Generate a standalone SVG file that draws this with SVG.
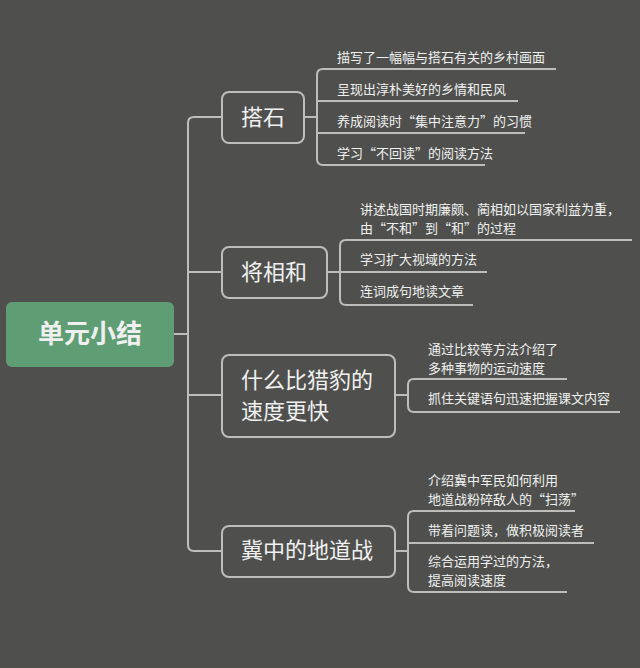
<svg xmlns="http://www.w3.org/2000/svg" width="640" height="668" viewBox="0 0 640 668">
<style>
text{font-family:"Noto Sans CJK SC","Noto Sans",sans-serif;fill:#f0f0f0}
.l{font-size:13px}
.b{font-size:22px}
.c{fill:none;stroke:#bdbdbb;stroke-width:2}
.box{fill:#4f504d;stroke:#bdbdbb;stroke-width:2}
</style>
<rect width="640" height="668" fill="#4f504d"/>
<g id="connectors" class="c">
<path d="M172 334H188"/>
<path d="M222 117H194Q188 117 188 123V545Q188 551 194 551H222"/>
<path d="M188 272H222M188 395H222"/>
<path d="M304 117H317"/>
<path d="M556 69H323Q317 69 317 75V159Q317 165 323 165H485M317 101H518M317 133H525"/>
<path d="M327 272H340"/>
<path d="M632 240H346Q340 240 340 246V299Q340 305 346 305H473M340 272H487"/>
<path d="M395 395H408"/>
<path d="M567 379H414Q408 379 408 385V406Q408 412 414 412H620"/>
<path d="M395 551H408"/>
<path d="M575 511H414Q408 511 408 517V586Q408 592 414 592H567M408 543H594"/>
</g>
<g id="root"><rect x="6" y="302" width="168" height="65" rx="6" fill="#5f9e74"/><text x="90" y="343" font-size="26" font-weight="bold" text-anchor="middle">单元小结</text></g>
<g id="n1"><rect class="box" x="222" y="92" width="82" height="51" rx="7"/><text class="b" x="263" y="125" text-anchor="middle">搭石</text></g>
<g id="n2"><rect class="box" x="222" y="247" width="105" height="51" rx="7"/><text class="b" x="274" y="280" text-anchor="middle">将相和</text></g>
<g id="n3"><rect class="box" x="222" y="355" width="173" height="82" rx="7"/><text class="b" x="241" y="388">什么比猎豹的</text><text class="b" x="241" y="419">速度更快</text></g>
<g id="n4"><rect class="box" x="222" y="526" width="173" height="51" rx="7"/><text class="b" x="241" y="558">冀中的地道战</text></g>
<g id="leaves" class="l">
<text class="l" x="337" y="62">描写了一幅幅与搭石有关的乡村画面</text>
<text class="l" x="337" y="94">呈现出淳朴美好的乡情和民风</text>
<text class="l" x="337" y="126">养成阅读时“集中注意力”的习惯</text>
<text class="l" x="337" y="158">学习“不回读”的阅读方法</text>
<text class="l" x="360" y="214">讲述战国时期廉颇、蔺相如以国家利益为重，</text>
<text class="l" x="360" y="233">由“不和”到“和”的过程</text>
<text class="l" x="360" y="264">学习扩大视域的方法</text>
<text class="l" x="360" y="296">连词成句地读文章</text>
<text class="l" x="428" y="354">通过比较等方法介绍了</text>
<text class="l" x="428" y="373">多种事物的运动速度</text>
<text class="l" x="428" y="403">抓住关键语句迅速把握课文内容</text>
<text class="l" x="428" y="485">介绍冀中军民如何利用</text>
<text class="l" x="428" y="504">地道战粉碎敌人的“扫荡”</text>
<text class="l" x="428" y="535">带着问题读，做积极阅读者</text>
<text class="l" x="428" y="566">综合运用学过的方法，</text>
<text class="l" x="428" y="585">提高阅读速度</text>
</g>
</svg>
